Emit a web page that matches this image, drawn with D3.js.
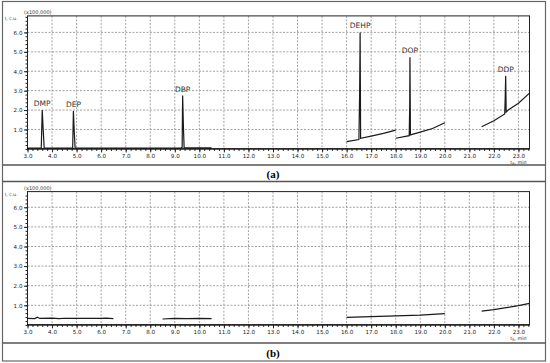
<!DOCTYPE html>
<html>
<head>
<meta charset="utf-8">
<script src="https://cdn.jsdelivr.net/npm/d3@7"></script>
<style>
  body { margin: 0; background: #fff; }
  svg { display: block; }
</style>
</head>
<body>
<div id="chart"></div>
<script>
// tick labels
var xTicks = [3, 4, 5, 6, 7, 8, 9, 10, 11, 12, 13, 14, 15, 16, 17, 18, 19, 20, 21, 22, 23];
var yTicks = [1, 2, 3, 4, 5, 6];

// peak names and where they sit (time, label height in x100,000)
var peakNames = ["DMP", "DEP", "DBP", "DEHP", "DOP", "DDP"];
var peakTimes = [3.6, 4.87, 9.32, 16.55, 18.58, 22.48];
var peakHeights = [2.0, 1.95, 2.75, 6.0, 4.72, 3.77];

// chromatogram (a): separate recorded segments, [time, intensity]
var traceA1 = [[3.0, 0.04], [3.5, 0.04], [3.56, 0.05], [3.6, 2.0], [3.63, 1.2], [3.68, 0.05], [3.8, 0.04],
               [4.8, 0.04], [4.84, 0.05], [4.87, 1.95], [4.9, 1.0], [4.94, 0.05], [5.1, 0.04],
               [9.25, 0.04], [9.3, 0.08], [9.32, 2.75], [9.35, 1.2], [9.38, 0.06], [9.5, 0.05], [10.5, 0.05]];
var traceA2 = [[16.0, 0.37], [16.5, 0.48], [16.53, 2.8], [16.55, 6.0], [16.57, 0.55], [17.0, 0.66], [17.5, 0.8], [18.0, 0.97]];
var traceA3 = [[18.0, 0.55], [18.55, 0.68], [18.57, 2.2], [18.58, 4.72], [18.6, 0.72], [19.0, 0.86], [19.5, 1.05], [20.0, 1.35]];
var traceA4 = [[21.5, 1.14], [22.0, 1.45], [22.44, 1.8], [22.46, 2.6], [22.48, 3.77], [22.5, 1.9], [22.6, 2.02], [23.0, 2.35], [23.45, 2.87]];

// chromatogram (b): blank, no peaks
var traceB1 = [[3.0, 0.33], [3.3, 0.32], [3.4, 0.39], [3.5, 0.33], [4.0, 0.35], [4.3, 0.32], [4.5, 0.34], [5.0, 0.33],
               [5.5, 0.34], [6.0, 0.33], [6.2, 0.35], [6.5, 0.32]];
var traceB2 = [[8.5, 0.3], [9.0, 0.33], [9.5, 0.32], [10.0, 0.33], [10.5, 0.32]];
var traceB3 = [[16.0, 0.38], [17.0, 0.42], [18.0, 0.46], [19.0, 0.5], [20.0, 0.58]];
var traceB4 = [[21.5, 0.7], [22.0, 0.78], [22.5, 0.88], [23.0, 0.98], [23.45, 1.1]];

var W = 550, H = 363;
var svg = d3.select("#chart").append("svg")
    .attr("width", W)
    .attr("height", H)
    .style("font-family", "'DejaVu Sans', sans-serif");

// outer frame and separators
svg.append("rect").attr("x", 2.5).attr("y", 1.5).attr("width", 543).attr("height", 359.5)
    .attr("fill", "none").attr("stroke", "#666").attr("stroke-width", 1.2);
[165, 181.5, 343].forEach(function (y) {
    svg.append("line").attr("x1", 2.5).attr("x2", 545.5).attr("y1", y).attr("y2", y)
        .attr("stroke", "#555").attr("stroke-width", 1.3);
});
svg.append("text").attr("x", 273).attr("y", 177.5).attr("text-anchor", "middle")
    .style("font-family", "'Liberation Serif', serif").style("font-weight", "bold").style("font-size", "11px")
    .text("(a)");
svg.append("text").attr("x", 273).attr("y", 356.5).attr("text-anchor", "middle")
    .style("font-family", "'Liberation Serif', serif").style("font-weight", "bold").style("font-size", "11px")
    .text("(b)");

function drawPanel(top, bottom, yMax, traces, labels) {
    var x = d3.scaleLinear().domain([3.0, 23.45]).range([27.5, 529.5]);
    var y = d3.scaleLinear().domain([0, yMax]).range([bottom, top]);
    var g = svg.append("g");

    // dotted grid
    xTicks.slice(1).forEach(function (t) {
        g.append("line").attr("x1", x(t)).attr("x2", x(t)).attr("y1", top).attr("y2", bottom)
            .attr("stroke", "#999").attr("stroke-width", 0.9).attr("stroke-dasharray", "2,1.5");
    });
    yTicks.forEach(function (t) {
        g.append("line").attr("x1", x(3.0)).attr("x2", x(23.45)).attr("y1", y(t)).attr("y2", y(t))
            .attr("stroke", "#999").attr("stroke-width", 0.9).attr("stroke-dasharray", "2,1.5");
    });

    // minor ticks
    var minorX = d3.range(3.0, 23.45, 0.2);
    var minorY = d3.range(0, yMax, 0.2);
    g.append("g").attr("transform", "translate(0," + bottom + ")")
        .call(d3.axisBottom(x).tickValues(minorX).tickSize(2).tickFormat(""))
        .call(function (a) { a.select(".domain").remove(); a.selectAll("line").attr("stroke", "#222"); });
    g.append("g").attr("transform", "translate(" + x(3.0) + ",0)")
        .call(d3.axisLeft(y).tickValues(minorY).tickSize(2).tickFormat(""))
        .call(function (a) { a.select(".domain").remove(); a.selectAll("line").attr("stroke", "#222"); });

    // major axes
    g.append("g").attr("transform", "translate(0," + bottom + ")")
        .call(d3.axisBottom(x).tickValues(xTicks).tickSize(3.5).tickPadding(1.5).tickFormat(d3.format(".1f")))
        .call(function (a) {
            a.select(".domain").remove();
            a.selectAll("line").attr("stroke", "#222");
            a.selectAll("text").style("font-size", "5.6px").attr("fill", "#222").style("font-family", "'DejaVu Sans', sans-serif");
        });
    g.append("g").attr("transform", "translate(" + x(3.0) + ",0)")
        .call(d3.axisLeft(y).tickValues(yTicks).tickSize(3.5).tickPadding(1.5).tickFormat(d3.format(".1f")))
        .call(function (a) {
            a.select(".domain").remove();
            a.selectAll("line").attr("stroke", "#222");
            a.selectAll("text").style("font-size", "5.6px").attr("fill", "#222").style("font-family", "'DejaVu Sans', sans-serif");
        });

    // plot frame
    g.append("rect").attr("x", x(3.0)).attr("y", top).attr("width", x(23.45) - x(3.0)).attr("height", bottom - top)
        .attr("fill", "none").attr("stroke", "#222").attr("stroke-width", 1);
    g.append("line").attr("x1", x(3.0)).attr("x2", x(23.45)).attr("y1", bottom).attr("y2", bottom)
        .attr("stroke", "#111").attr("stroke-width", 1.4);

    // axis captions
    g.append("text").attr("x", 24).attr("y", top - 2).style("font-size", "5px").attr("fill", "#333").text("(x100,000)");
    g.append("text").attr("x", 5).attr("y", top + 4.5).style("font-size", "4.5px").attr("fill", "#333").text("I, c.u.");
    var tl = g.append("text").attr("x", x(23.0)).attr("y", bottom + 14.8).attr("text-anchor", "middle")
        .style("font-size", "4.8px").attr("fill", "#333");
    tl.append("tspan").text("t");
    tl.append("tspan").attr("dy", 1).style("font-size", "3.4px").text("R");
    tl.append("tspan").attr("dy", -1).text(", min");

    // traces
    var line = d3.line().x(function (d) { return x(d[0]); }).y(function (d) { return y(d[1]); });
    traces.forEach(function (tr) {
        g.append("path").datum(tr).attr("d", line)
            .attr("fill", "none").attr("stroke", "#1a1a1a").attr("stroke-width", 1.2).attr("stroke-linejoin", "miter");
    });

    if (labels) {
        peakNames.forEach(function (n, i) {
            g.append("text").attr("x", x(peakTimes[i])).attr("y", y(peakHeights[i]) - 4)
                .attr("text-anchor", "middle").style("font-size", "7.5px").attr("fill", "#333").text(n);
        });
    }
}

drawPanel(15.9, 148.9, 6.85, [traceA1, traceA2, traceA3, traceA4], true);
drawPanel(191.6, 324.9, 6.8, [traceB1, traceB2, traceB3, traceB4], false);
</script>
</body>
</html>
